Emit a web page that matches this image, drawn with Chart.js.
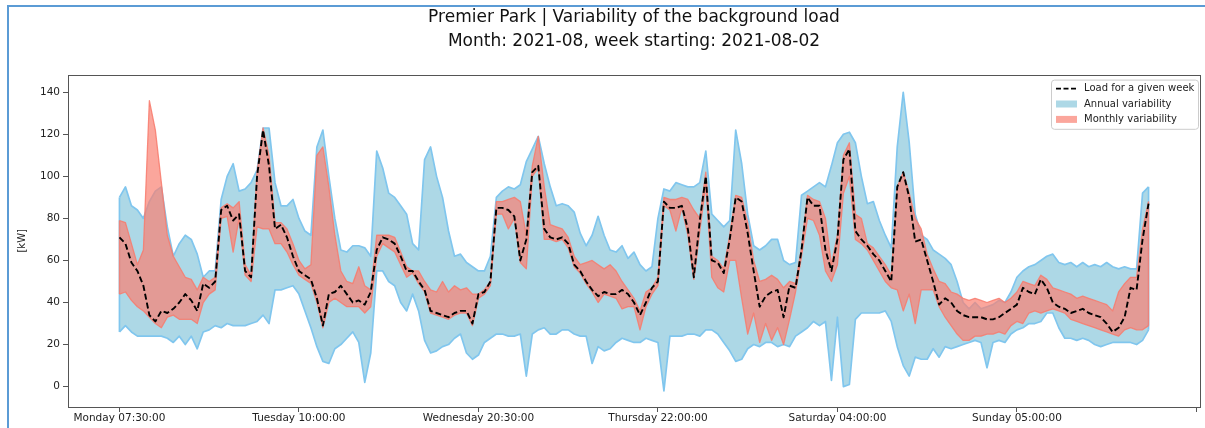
<!DOCTYPE html>
<html>
<head>
<meta charset="utf-8">
<title>Premier Park | Variability of the background load</title>
<script src="https://cdn.jsdelivr.net/npm/chart.js@4.4.1/dist/chart.umd.min.js"></script>
<style>
    html, body { margin: 0; padding: 0; background: #fff; }
    #wrap { position: relative; width: 1205px; height: 428px; overflow: hidden; }
    #frame {
        position: absolute; left: 7px; top: 5px; width: 1300px; height: 500px;
        border-left: 2px solid #5b9bd5; border-top: 2px solid #5b9bd5;
        pointer-events: none;
    }
</style>
</head>
<body>
<div id="wrap">
    <canvas id="load-chart" width="1205" height="428"></canvas>
    <div id="frame"></div>
</div>
<script>
// x axis: sample index, ticks every 30 samples
const tickPositions = [0, 30, 60, 90, 120, 150, 180];
const tickLabels = ['Monday 07:30:00', 'Tuesday 10:00:00', 'Wednesday 20:30:00', 'Thursday 22:00:00', 'Saturday 04:00:00', 'Sunday 05:00:00', ''];
const yTicks = [0, 20, 40, 60, 80, 100, 120, 140];

const titleLines = ['Premier Park | Variability of the background load', 'Month: 2021-08, week starting: 2021-08-02'];

// Load for a given week [kW]
const loadWeek = [
    71, 68, 59, 55, 48, 34, 31, 36, 35, 37, 40, 44, 41, 36, 49, 47, 50, 84, 86, 79, 82, 55, 52, 100,
    122, 105, 75, 77, 71, 62, 55, 53, 51, 42, 29, 44, 45, 48, 44, 40, 41, 39, 45, 65, 71, 70, 68, 62, 55,
    55, 50, 46, 36, 35, 34, 33, 35, 36, 36, 30, 44, 45, 50, 85, 85, 84, 81, 60, 70, 102, 105, 75, 71, 70,
    71, 68, 58, 55, 50, 46, 43, 45, 44, 44, 46, 44, 40, 34, 40, 47, 50, 88, 85, 85, 86, 75, 52, 79, 100,
    60, 59, 54, 70, 90, 88, 73, 55, 38, 43, 45, 46, 33, 48, 47, 65, 90, 86, 86, 65, 55, 70, 108, 113, 74,
    70, 67, 63, 60, 55, 50, 95, 102, 90, 69, 70, 60, 50, 39, 42, 40, 36, 34, 33, 33, 33, 32, 32, 33, 35,
    37, 39, 47, 45, 44, 51, 47, 40, 38, 37, 35, 36, 37, 35, 34, 33, 30, 26, 28, 33, 47, 46, 70, 87
];

// Monthly variability band
const monthlyMax = [
    79, 78, 68, 58, 65, 136, 122, 97, 72, 62, 57, 52, 51, 46, 52, 50, 52, 85, 87, 85, 88, 58, 53, 102,
    123, 110, 78, 78, 75, 68, 60, 56, 58, 110, 114, 95, 72, 55, 50, 49, 57, 48, 46, 72, 72, 72, 71, 64, 57,
    55, 55, 50, 46, 45, 50, 45, 48, 46, 47, 44, 44, 46, 50, 88, 88, 89, 90, 88, 72, 105, 119, 95, 77, 76,
    75, 71, 62, 58, 59, 60, 58, 56, 58, 55, 50, 46, 42, 36, 45, 47, 52, 90, 89, 89, 90, 89, 84, 80, 102,
    62, 60, 56, 72, 91, 90, 78, 60, 50, 51, 53, 51, 47, 50, 49, 66, 91, 89, 88, 80, 58, 72, 110, 116, 82,
    80, 68, 66, 62, 58, 53, 95, 102, 92, 80, 75, 63, 56, 50, 49, 45, 44, 42, 41, 42, 41, 40, 41, 42, 40,
    42, 45, 50, 49, 48, 53, 51, 47, 46, 45, 44, 42, 43, 42, 41, 40, 39, 36, 45, 49, 52, 52, 75, 88
];
const monthlyMin = [
    44, 45, 41, 38, 36, 33, 30, 28, 33, 34, 32, 32, 32, 30, 40, 44, 46, 80, 81, 64, 80, 53, 50, 76,
    75, 75, 68, 68, 64, 58, 53, 51, 49, 40, 28, 40, 42, 40, 38, 38, 38, 35, 38, 62, 68, 66, 64, 58, 52,
    54, 49, 45, 35, 34, 33, 32, 34, 35, 35, 29, 42, 44, 48, 82, 82, 75, 80, 59, 56, 100, 104, 70, 70, 69,
    70, 66, 57, 54, 49, 45, 40, 44, 43, 42, 37, 38, 38, 27, 38, 44, 48, 86, 84, 74, 85, 72, 51, 74, 96,
    52, 47, 45, 60, 60, 42, 25, 35, 21, 30, 22, 28, 20, 32, 45, 62, 80, 79, 72, 55, 50, 58, 92, 100, 70,
    68, 65, 60, 55, 50, 47, 46, 36, 44, 30, 46, 46, 46, 38, 33, 29, 25, 22, 22, 24, 24, 25, 25, 26, 25,
    29, 31, 30, 35, 36, 35, 36, 37, 36, 35, 32, 31, 30, 29, 28, 27, 26, 25, 24, 27, 28, 27, 27, 29
];

// Annual variability band
const annualMax = [
    90, 95, 86, 84, 80, 88, 93, 95, 76, 62, 68, 72, 70, 63, 52, 55, 55, 89, 100, 106, 93, 94, 97, 103,
    123, 123, 97, 86, 86, 89, 80, 74, 72, 114, 122, 100, 80, 65, 64, 67, 67, 66, 62, 112, 104, 92, 90, 86, 82,
    68, 65, 108, 114, 100, 90, 74, 62, 63, 59, 57, 55, 55, 62, 90, 93, 95, 94, 96, 107, 113, 119, 106, 95, 86,
    87, 86, 83, 73, 67, 72, 81, 72, 65, 64, 67, 61, 64, 58, 55, 57, 80, 94, 93, 97, 96, 95, 95, 97, 112,
    82, 79, 76, 79, 122, 106, 82, 67, 65, 67, 70, 70, 60, 58, 59, 91, 93, 95, 97, 95, 105, 116, 120, 121, 116,
    100, 87, 88, 79, 72, 66, 114, 140, 116, 82, 72, 70, 65, 63, 61, 58, 50, 40, 37, 40, 37, 38, 39, 41, 40,
    45, 52, 55, 57, 58, 60, 62, 63, 59, 58, 59, 57, 59, 57, 58, 57, 59, 57, 56, 57, 56, 56, 92, 95
];
const annualMin = [
    26, 29, 26, 24, 24, 24, 24, 24, 23, 21, 24, 20, 24, 18, 26, 27, 29, 28, 30, 29, 29, 29, 30, 31,
    34, 30, 46, 46, 47, 48, 44, 36, 28, 19, 12, 11, 18, 20, 23, 26, 21, 2, 16, 55, 55, 50, 48, 40, 36,
    44, 36, 22, 16, 17, 19, 20, 23, 25, 16, 13, 15, 21, 23, 25, 25, 24, 24, 25, 5, 25, 27, 28, 25, 25,
    27, 27, 25, 24, 24, 11, 19, 17, 18, 21, 23, 22, 21, 21, 23, 22, 21, -2, 24, 24, 24, 25, 25, 24, 27,
    27, 25, 21, 17, 12, 13, 18, 20, 19, 21, 21, 19, 20, 19, 24, 26, 28, 31, 29, 31, 3, 33, 0, 1, 32,
    35, 35, 35, 35, 36, 31, 19, 10, 5, 14, 13, 13, 18, 14, 19, 18, 19, 20, 21, 22, 21, 9, 21, 22, 21,
    25, 27, 28, 30, 30, 31, 35, 35, 28, 23, 23, 22, 23, 22, 20, 19, 20, 21, 21, 21, 21, 20, 22, 27
];

const FONT = 'DejaVu Sans';
const annualFill = 'rgb(173, 216, 230)';
const annualEdge = 'rgb(128, 198, 238)';
const monthlyFill = 'rgba(250, 128, 114, 0.7)';
const monthlyEdge = 'rgba(248, 122, 108, 0.85)';

const toPoints = arr => arr.map((v, i) => ({ x: i, y: v }));

// matplotlib-like box around the axes
const axesFrame = {
    id: 'axesFrame',
    afterDraw(chart) {
        const { ctx, chartArea: a } = chart;
        ctx.save();
        ctx.strokeStyle = '#555';
        ctx.lineWidth = 1;
        ctx.strokeRect(Math.round(a.left) + 0.5, Math.round(a.top) + 0.5, Math.round(a.width), Math.round(a.height));
        ctx.restore();
    }
};

// vertical edges closing each band at both ends (like fill_between outlines)
const bandEnds = {
    id: 'bandEnds',
    afterDatasetDraw(chart, args) {
        const ds = chart.data.datasets[args.index];
        if (!ds.fill) return;
        const upper = args.meta.data;
        const lower = chart.getDatasetMeta(args.index - 1).data;
        const { ctx } = chart;
        ctx.save();
        ctx.strokeStyle = ds.borderColor;
        ctx.lineWidth = ds.borderWidth;
        [0, upper.length - 1].forEach(k => {
            ctx.beginPath();
            ctx.moveTo(upper[k].x, upper[k].y);
            ctx.lineTo(lower[k].x, lower[k].y);
            ctx.stroke();
        });
        ctx.restore();
    }
};

// legend box in the upper right corner of the axes
const cornerLegend = {
    id: 'cornerLegend',
    afterDraw(chart) {
        const { ctx, chartArea: a } = chart;
        const items = chart.options.plugins.cornerLegend.items.map(i => chart.data.datasets[i]);
        const w = 147, rowH = 15.4;
        const h = items.length * rowH + 3;
        const x = a.right - w - 2, y = a.top + 5;

        ctx.save();
        ctx.beginPath();
        ctx.roundRect(x + 0.5, y + 0.5, w, h, 3);
        ctx.fillStyle = 'rgba(255,255,255,0.85)';
        ctx.fill();
        ctx.strokeStyle = '#cccccc';
        ctx.lineWidth = 1;
        ctx.stroke();

        ctx.font = `10px "${FONT}"`;
        ctx.textBaseline = 'middle';
        items.forEach((ds, k) => {
            const cy = y + 9 + k * rowH;
            const hx = x + 5;
            if (ds.fill) {
                ctx.fillStyle = ds.backgroundColor;
                ctx.fillRect(hx, cy - 3.5, 21, 7);
            } else {
                ctx.beginPath();
                ctx.setLineDash([5, 2.5]);
                ctx.strokeStyle = ds.borderColor;
                ctx.lineWidth = 1.7;
                ctx.moveTo(hx, cy);
                ctx.lineTo(hx + 21, cy);
                ctx.stroke();
                ctx.setLineDash([]);
            }
            ctx.fillStyle = '#222';
            ctx.fillText(ds.label, x + 33, cy);
        });
        ctx.restore();
    }
};

const ctx = document.getElementById('load-chart').getContext('2d');
const loadChart = new Chart(ctx, {
    type: 'line',
    data: {
        datasets: [
            {
                label: 'Load for a given week',
                data: toPoints(loadWeek),
                borderColor: '#000',
                borderWidth: 1.9,
                borderDash: [6, 3],
                fill: false,
                order: 0
            },
            {
                label: 'Monthly min',
                data: toPoints(monthlyMin),
                borderColor: monthlyEdge,
                borderWidth: 1.3,
                fill: false,
                order: 1
            },
            {
                label: 'Monthly variability',
                data: toPoints(monthlyMax),
                borderColor: monthlyEdge,
                backgroundColor: monthlyFill,
                borderWidth: 1.3,
                fill: '-1',
                order: 1
            },
            {
                label: 'Annual min',
                data: toPoints(annualMin),
                borderColor: annualEdge,
                borderWidth: 1.7,
                fill: false,
                order: 2
            },
            {
                label: 'Annual variability',
                data: toPoints(annualMax),
                borderColor: annualEdge,
                backgroundColor: annualFill,
                borderWidth: 1.7,
                fill: '-1',
                order: 2
            }
        ]
    },
    options: {
        responsive: false,
        animation: false,
        events: [],
        devicePixelRatio: 1,
        elements: {
            point: { radius: 0 },
            line: { tension: 0, borderJoinStyle: 'round' }
        },
        layout: { padding: { top: 0, left: 6, right: 5, bottom: 0 } },
        scales: {
            x: {
                type: 'linear',
                min: -8.6,
                max: 180.6,
                afterBuildTicks: scale => { scale.ticks = tickPositions.map(v => ({ value: v })); },
                afterFit: scale => { scale.height = 21; },
                ticks: {
                    autoSkip: false,
                    maxRotation: 0,
                    padding: 0,
                    color: '#222',
                    font: { family: FONT, size: 10.5 },
                    callback: v => tickLabels[tickPositions.indexOf(v)] ?? ''
                },
                grid: { display: true, drawOnChartArea: false, drawTicks: true, tickLength: 5, color: '#555' },
                border: { display: false }
            },
            y: {
                min: -9.7,
                max: 148.4,
                afterBuildTicks: scale => { scale.ticks = yTicks.map(v => ({ value: v })); },
                afterFit: scale => { scale.width = 62; },
                ticks: {
                    padding: 3,
                    color: '#222',
                    font: { family: FONT, size: 10.5 }
                },
                grid: { display: true, drawOnChartArea: false, drawTicks: true, tickLength: 5, color: '#555' },
                border: { display: false },
                title: {
                    display: true,
                    text: '[kW]',
                    color: '#222',
                    font: { family: FONT, size: 10 },
                    padding: { top: 10, bottom: 0 }
                }
            }
        },
        plugins: {
            legend: { display: false },
            tooltip: { enabled: false },
            title: {
                display: true,
                text: titleLines,
                fullSize: false,
                color: '#111',
                font: { family: FONT, size: 17, weight: 'normal', lineHeight: 1.4 },
                padding: { top: 6, bottom: 21 }
            },
            cornerLegend: { items: [0, 4, 2] }
        }
    },
    plugins: [axesFrame, bandEnds, cornerLegend]
});
</script>
</body>
</html>
